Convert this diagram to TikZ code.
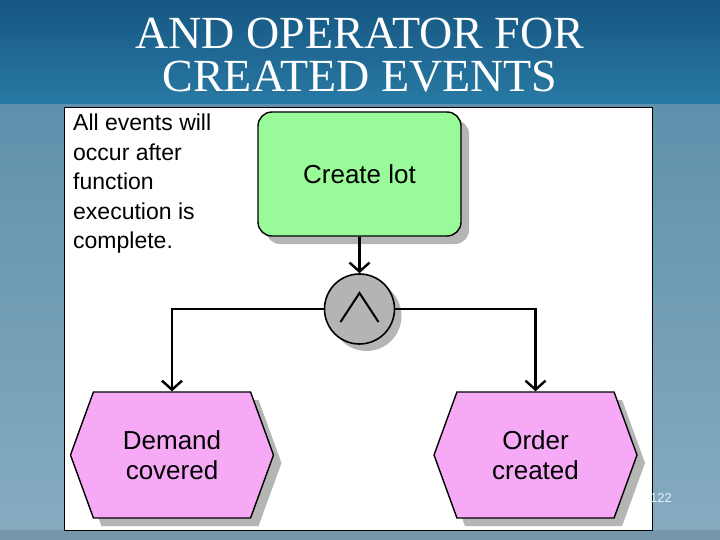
\documentclass[tikz,border=0pt]{standalone}
\usepackage{fontspec}
\setmainfont{Liberation Serif}
\setsansfont{Liberation Sans}
\usetikzlibrary{arrows.meta,positioning,shapes.symbols,shadows}

\definecolor{bandtop}{RGB}{22,86,130}
\definecolor{bandbot}{RGB}{40,122,164}
\definecolor{slidetop}{RGB}{96,144,172}
\definecolor{slidebot}{RGB}{134,172,192}
\definecolor{stripfill}{RGB}{118,150,170}
\definecolor{fnfill}{RGB}{152,250,152}
\definecolor{evfill}{RGB}{246,170,246}
\definecolor{opfill}{RGB}{180,180,180}
\definecolor{shadefill}{RGB}{150,150,150}

\begin{document}
\begin{tikzpicture}[
  x=1pt, y=-1pt,
  font=\sffamily,
  title/.style={align=center, text=white, inner sep=0pt,
                font=\rmfamily\fontsize{46}{43}\selectfont},
  panel/.style={draw, fill=white, line width=0.8pt, inner sep=0pt,
                minimum width=588pt, minimum height=423pt},
  note/.style={align=left, inner sep=0pt,
               font=\sffamily\fontsize{23}{29.5}\selectfont},
  func/.style={draw, line width=1.4pt, fill=fnfill, rounded corners=14pt,
               minimum width=203pt, minimum height=124pt,
               font=\sffamily\fontsize{26}{30}\selectfont,
               drop shadow={shadow xshift=8pt, shadow yshift=-8pt,
                            fill=shadefill, opacity=0.7}},
  evt/.style={draw, line width=1.4pt, fill=evfill, signal,
              signal to=east and west, signal pointer angle=140,
              minimum width=203pt, minimum height=126pt, inner sep=0pt,
              align=center, font=\sffamily\fontsize{26}{30}\selectfont,
              drop shadow={shadow xshift=8pt, shadow yshift=-8pt,
                           fill=shadefill, opacity=0.7}},
  op/.style={circle, draw, line width=1.6pt, fill=opfill,
             minimum size=70pt, inner sep=0pt,
             drop shadow={shadow xshift=7pt, shadow yshift=-7pt,
                          fill=shadefill, opacity=0.7},
             path picture={\draw[line width=2pt]
               ([xshift=-19pt,yshift=-13pt]path picture bounding box.center)
               -- ([yshift=16pt]path picture bounding box.center)
               -- ([xshift=19pt,yshift=-13pt]path picture bounding box.center);}},
  arr/.style={line width=2.4pt, -{Straight Barb[length=9pt, width=20pt]}}
]
  % slide background
  \fill[top color=slidetop, bottom color=slidebot] (0,104) rectangle (720,540);
  \fill[top color=bandtop, bottom color=bandbot] (0,0) rectangle (720,104);
  \fill[stripfill] (0,530) rectangle (720,540);

  \node[title] (title) at (360,55) {AND OPERATOR FOR\\CREATED EVENTS};

  \node[panel] (panel) at (358,318.5) {};
  \node[note, anchor=north west] (note) at (73,114)
    {All events will\\occur after\\function\\execution is\\complete.};

  \node[func] (lot) at (359.5,174) {Create lot};
  \node[op] (and) at (359.5,309) {};
  \node[evt] (demand) at (172,455) {Demand\\covered};
  \node[evt] (order) at (535.5,455) {Order\\created};

  \node[text=white!88!cyan, font=\sffamily\fontsize{13}{13}\selectfont]
    (page) at (661,498) {122};

  \draw[arr] (lot) -- (and);
  \draw[arr] (and.west) -| (demand.north);
  \draw[arr] (and.east) -| (order.north);
\end{tikzpicture}
\end{document}
